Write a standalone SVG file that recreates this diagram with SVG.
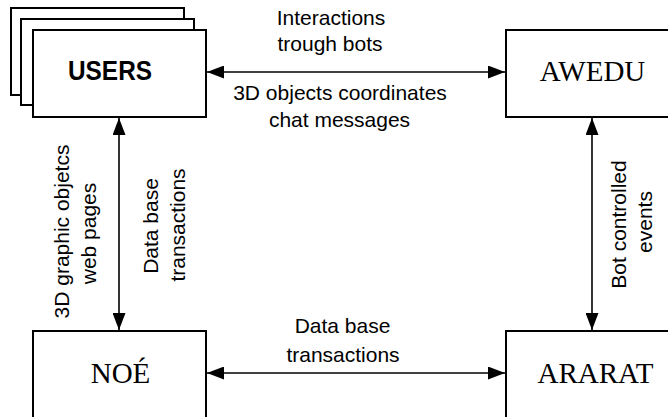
<svg xmlns="http://www.w3.org/2000/svg" width="668" height="417" viewBox="0 0 668 417">
<style>
.box{fill:#fff;stroke:#000;stroke-width:2}
.ln{stroke:#000;stroke-width:1.6;fill:none}
.lbl{font-family:"Liberation Sans",Arial,sans-serif;font-size:21px;fill:#000;text-anchor:middle}
.ser{font-family:"Liberation Serif","Times New Roman",serif;font-size:29px;fill:#000;text-anchor:middle}
.bold{font-family:"Liberation Sans",Arial,sans-serif;font-size:27px;font-weight:bold;fill:#000;text-anchor:middle}
</style>
<defs>
<marker id="ah" viewBox="0 0 17 13" refX="17" refY="6.5" markerWidth="17" markerHeight="13" markerUnits="userSpaceOnUse" orient="auto-start-reverse">
<path d="M0,0 L17,6.5 L0,13 Z" fill="#000"/>
</marker>
</defs>
<g id="users">
<rect class="box" x="11" y="8" width="173" height="87"/>
<rect class="box" x="21" y="19" width="173" height="86"/>
<rect class="box" x="33" y="30" width="173" height="87"/>
<text class="bold" x="110" y="80" textLength="84" lengthAdjust="spacingAndGlyphs">USERS</text>
</g>
<g id="awedu">
<rect class="box" x="506" y="30" width="180" height="87"/>
<text class="ser" x="592.5" y="81">AWEDU</text>
</g>
<g id="noe">
<rect class="box" x="33" y="331" width="173" height="100"/>
<text class="ser" x="120.5" y="383">NOÉ</text>
</g>
<g id="ararat">
<rect class="box" x="506" y="331" width="180" height="100"/>
<text class="ser" x="595.5" y="383">ARARAT</text>
</g>
<g id="connectors">
<line class="ln" x1="207" y1="72" x2="505" y2="72" marker-start="url(#ah)" marker-end="url(#ah)"/>
<line class="ln" x1="207" y1="373" x2="505" y2="373" marker-start="url(#ah)" marker-end="url(#ah)"/>
<line class="ln" x1="119" y1="118" x2="119" y2="330" marker-start="url(#ah)" marker-end="url(#ah)"/>
<line class="ln" x1="592" y1="118" x2="592" y2="330" marker-start="url(#ah)" marker-end="url(#ah)"/>
</g>
<g id="labels">
<text class="lbl" x="331" y="25">Interactions</text>
<text class="lbl" x="330" y="51">trough bots</text>
<text class="lbl" x="340" y="100">3D objects coordinates</text>
<text class="lbl" x="339.5" y="127">chat messages</text>
<text class="lbl" x="342.5" y="333">Data base</text>
<text class="lbl" x="343" y="362">transactions</text>
<text class="lbl" transform="translate(69,231.5) rotate(-90)">3D graphic objetcs</text>
<text class="lbl" transform="translate(96,233.5) rotate(-90)">web pages</text>
<text class="lbl" transform="translate(158,226) rotate(-90)">Data base</text>
<text class="lbl" transform="translate(185,225) rotate(-90)">transactions</text>
<text class="lbl" transform="translate(626,224.5) rotate(-90)">Bot controlled</text>
<text class="lbl" transform="translate(652,222) rotate(-90)">events</text>
</g>
</svg>
